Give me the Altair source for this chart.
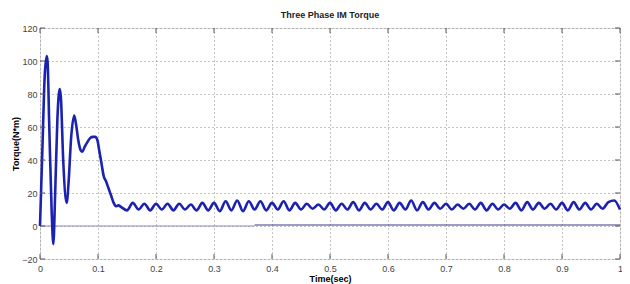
import altair as alt
import pandas as pd

# Transient part of the electromagnetic torque
t_trans = [0.0, 0.004, 0.008, 0.0115, 0.013, 0.016, 0.020, 0.023, 0.026, 0.030, 0.034, 0.036,
           0.040, 0.046, 0.049, 0.054, 0.059, 0.062, 0.066, 0.070, 0.073, 0.077, 0.082, 0.087,
           0.091, 0.095, 0.099, 0.102, 0.106, 0.110, 0.114, 0.118, 0.123, 0.127, 0.131, 0.135]
y_trans = [0.0, 45.0, 90.0, 103.0, 100.0, 60.0, 10.0, -11.0, 18.0, 65.0, 83.0, 78.0,
           40.0, 14.0, 25.0, 55.0, 67.0, 62.0, 52.0, 46.0, 45.0, 48.0, 51.0, 53.5,
           54.0, 54.0, 52.0, 46.0, 38.0, 30.0, 27.0, 23.0, 18.0, 14.0, 12.0, 12.5]

# Steady-state ripple, sampled every 0.01 s from 0.14 s to 1.0 s
t_ss = [round(0.14 + 0.01 * i, 2) for i in range(87)]
y_ss = [11.5, 9.5, 14.0, 10.0, 13.5, 9.5, 13.5, 10.0, 13.5, 9.5,
        13.5, 10.0, 13.0, 9.5, 14.0, 9.5, 14.0, 9.0, 15.0, 9.5,
        15.5, 9.0, 15.0, 10.0, 15.0, 9.5, 14.0, 10.0, 15.0, 9.5,
        14.0, 10.0, 13.5, 10.5, 13.0, 10.0, 14.0, 9.5, 13.5, 10.0,
        14.5, 9.5, 14.0, 10.0, 13.5, 10.0, 14.5, 9.5, 14.0, 10.0,
        15.5, 9.5, 14.5, 10.0, 14.0, 10.5, 13.5, 10.0, 13.0, 10.5,
        13.5, 10.0, 14.0, 9.5, 13.5, 10.0, 13.0, 10.5, 14.0, 9.5,
        14.5, 10.0, 14.0, 10.5, 13.5, 10.0, 14.0, 9.5, 14.5, 10.0,
        14.0, 10.0, 13.5, 10.5, 14.5, 15.5, 10.0]

# Load torque reference
t_load = [0.0, 0.37, 0.37, 1.0]
y_load = [0.0, 0.0, 0.6, 0.6]
load_seg = ["a", "a", "b", "b"]

x_ticks = [0, 0.1, 0.2, 0.3, 0.4, 0.5, 0.6, 0.7, 0.8, 0.9, 1]
y_ticks = [-20, 0, 20, 40, 60, 80, 100, 120]

torque = pd.DataFrame({"t": t_trans + t_ss, "T": y_trans + y_ss})
load = pd.DataFrame({"t": t_load, "T": y_load, "seg": load_seg})
xt = pd.DataFrame({"t": x_ticks})
yt = pd.DataFrame({"T": y_ticks})

FONT = "Liberation Sans"
W, H = 580, 231
TICK = 5

xscale = alt.Scale(domain=[0, 1], nice=False, zero=False)
yscale = alt.Scale(domain=[-20, 120], nice=False)

xaxis = alt.Axis(values=x_ticks, format="~g", title="Time(sec)", grid=True, gridDash=[1, 3],
                 gridColor="#888888", gridWidth=1, ticks=False, labelPadding=5,
                 labelFont=FONT, labelFontSize=9, labelColor="#444444", labelOverlap=False,
                 titleFont=FONT, titleFontSize=9, titleFontWeight="bold",
                 titlePadding=1, domain=False, labelFlush=False)
yaxis = alt.Axis(values=y_ticks, format="d", title="Torque(N*m)", grid=True, gridDash=[1, 3],
                 gridColor="#888888", gridWidth=1, ticks=False, labelPadding=3,
                 labelFont=FONT, labelFontSize=9, labelColor="#444444", labelOverlap=False,
                 titleFont=FONT, titleFontSize=9, titleFontWeight="bold",
                 titlePadding=1, domain=False, labelFlush=False)

load_line = alt.Chart(load).mark_line(strokeWidth=1.2).encode(
    x=alt.X("t:Q", scale=xscale, axis=xaxis),
    y=alt.Y("T:Q", scale=yscale, axis=yaxis),
    detail="seg:N",
    color=alt.Color("seg:N", scale=alt.Scale(domain=["a", "b"], range=["#8a8ac0", "#3a3a90"]), legend=None),
)

torque_line = alt.Chart(torque).mark_line(color="#1c22b0", strokeWidth=2.6,
                                          interpolate="monotone").encode(
    x=alt.X("t:Q", scale=xscale, axis=xaxis),
    y=alt.Y("T:Q", scale=yscale, axis=yaxis),
)

# Inward MATLAB-style ticks
tick_col = "#555555"
xt_bottom = alt.Chart(xt).mark_rule(color=tick_col, strokeWidth=1).encode(
    x=alt.X("t:Q", scale=xscale, axis=xaxis), y=alt.value(H), y2=alt.value(H - TICK))
xt_top = alt.Chart(xt).mark_rule(color=tick_col, strokeWidth=1).encode(
    x=alt.X("t:Q", scale=xscale, axis=xaxis), y=alt.value(0), y2=alt.value(TICK))
yt_left = alt.Chart(yt).mark_rule(color=tick_col, strokeWidth=1).encode(
    y=alt.Y("T:Q", scale=yscale, axis=yaxis), x=alt.value(0), x2=alt.value(TICK))
yt_right = alt.Chart(yt).mark_rule(color=tick_col, strokeWidth=1).encode(
    y=alt.Y("T:Q", scale=yscale, axis=yaxis), x=alt.value(W), x2=alt.value(W - TICK))

chart = alt.layer(load_line, torque_line, xt_bottom, xt_top, yt_left, yt_right).properties(
    width=W, height=H,
    title=alt.Title("Three Phase IM Torque", font=FONT, fontSize=9, fontWeight="bold",
                    color="#222222", offset=4),
    autosize=alt.AutoSizeParams(type="none"),
    padding={"left": 32, "top": 20, "right": 2, "bottom": 25},
).configure_view(stroke="#666666", strokeWidth=1).configure(background="white")

chart.save("out.html", embed_options={"renderer": "svg", "actions": False})
